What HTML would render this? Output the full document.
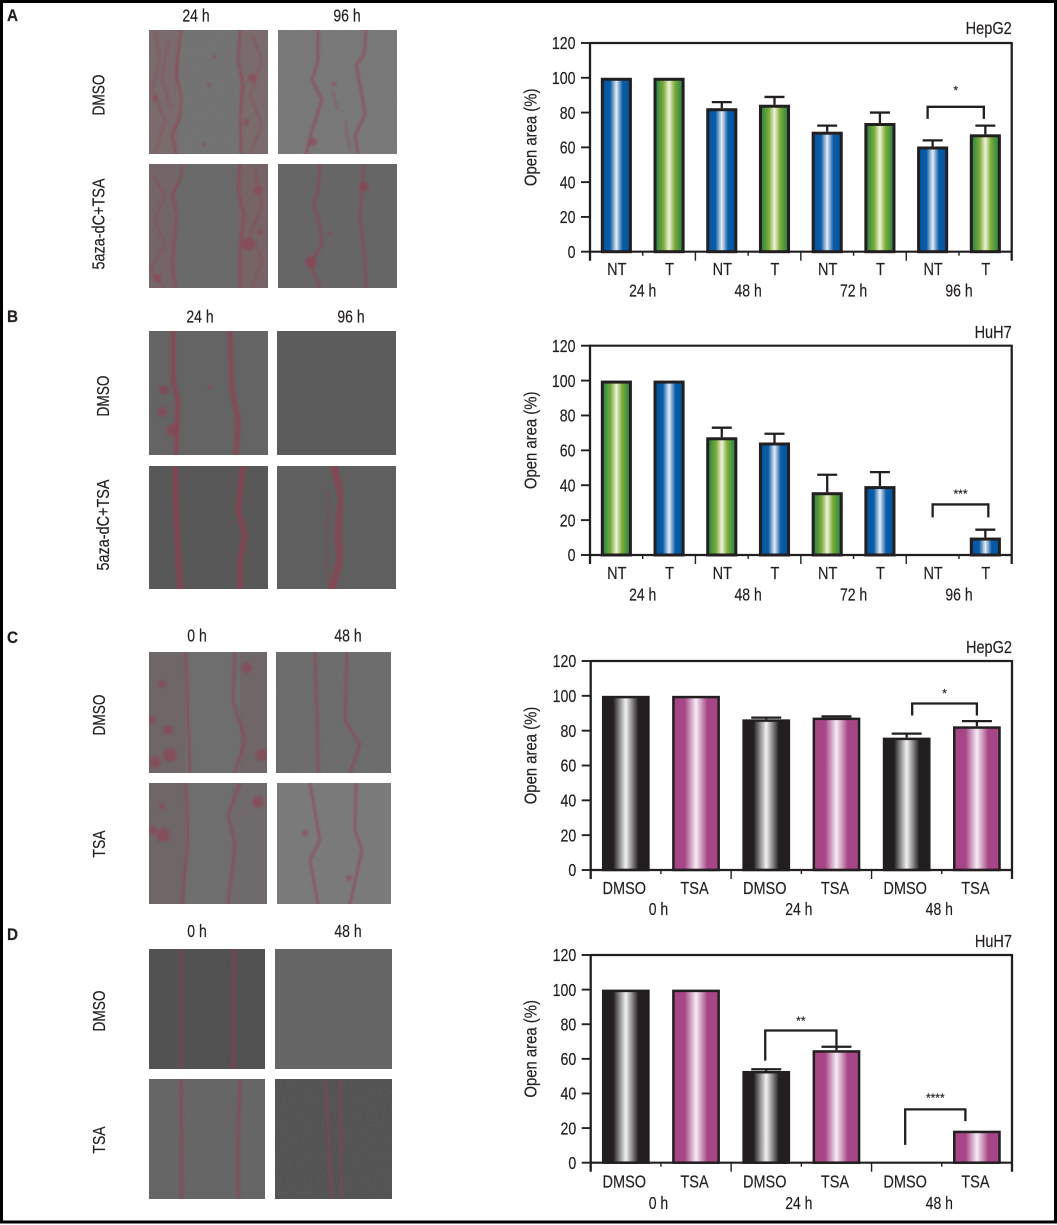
<!DOCTYPE html>
<html lang="en">
<head>
<meta charset="utf-8">
<title>Open area wound healing figure</title>
<style>
html,body{margin:0;padding:0;background:#fff;}
#figure{display:block;position:absolute;left:0;top:0;}
text{font-family:"Liberation Sans",sans-serif;fill:#231f20;stroke:#231f20;stroke-width:.18;}
.w{fill:none;stroke:rgb(150,58,78);stroke-width:2.4;stroke-opacity:.62;stroke-linejoin:round;stroke-linecap:round;}
.t{fill:none;stroke:rgb(150,58,78);stroke-width:1.6;stroke-opacity:.45;}
.b{fill:rgb(150,58,78);fill-opacity:.5;}
</style>
</head>
<body>
<svg id="figure" xmlns="http://www.w3.org/2000/svg" width="1057" height="1225" viewBox="0 0 1057 1225">
<defs>
<filter id="soft" x="-5%" y="-5%" width="110%" height="110%"><feGaussianBlur stdDeviation="1.1"/></filter>
<filter id="grain" x="0" y="0" width="100%" height="100%"><feTurbulence type="fractalNoise" baseFrequency="0.55" numOctaves="2" seed="4"/><feColorMatrix type="matrix" values="0 0 0 0 0.25  0 0 0 0 0.25  0 0 0 0 0.25  0 0 0 1.1 -0.4"/></filter>
<linearGradient id="grad-blue" x1="0" x2="1" y1="0" y2="0"><stop offset="0" stop-color="#00549f"/><stop offset=".28" stop-color="#0a5ca6"/><stop offset=".5" stop-color="#e6ecf6"/><stop offset=".72" stop-color="#0a5ca6"/><stop offset="1" stop-color="#00549f"/></linearGradient>
<linearGradient id="grad-green" x1="0" x2="1" y1="0" y2="0"><stop offset="0" stop-color="#1f8048"/><stop offset=".3" stop-color="#7dab38"/><stop offset=".5" stop-color="#eef3da"/><stop offset=".7" stop-color="#7dab38"/><stop offset="1" stop-color="#1f8048"/></linearGradient>
<linearGradient id="grad-black" x1="0" x2="1" y1="0" y2="0"><stop offset="0" stop-color="#231f20"/><stop offset=".22" stop-color="#231f20"/><stop offset=".5" stop-color="#f2f2f2"/><stop offset=".78" stop-color="#231f20"/><stop offset="1" stop-color="#231f20"/></linearGradient>
<linearGradient id="grad-magenta" x1="0" x2="1" y1="0" y2="0"><stop offset="0" stop-color="#a64686"/><stop offset=".25" stop-color="#a64686"/><stop offset=".5" stop-color="#f5ecf3"/><stop offset=".75" stop-color="#a64686"/><stop offset="1" stop-color="#a64686"/></linearGradient>
</defs>

<rect x="0" y="0" width="1057" height="1225" fill="#fff"/>

<!-- Panel A micrographs -->
<svg x="149" y="30" width="119" height="124" viewBox="149 30 119 124">
<rect x="149" y="30" width="119" height="124" fill="#727272"/><rect x="149" y="30" width="30" height="124" fill="#7a6a6c"/><rect x="240" y="30" width="28" height="124" fill="#7a6a6c"/>
<rect x="149" y="30" width="119" height="124" filter="url(#grain)" opacity=".3"/>
<g filter="url(#soft)"><path class="w" d="M181 30L178 55L176 75L181 95L180 117L172 135L176 154"/><path class="w" d="M240 30L238 60L243 85L240 115L241 154"/><path class="t" d="M155 30L160 60L152 90L165 120L155 154M168 40L162 80L172 110M252 35L262 60L250 95L262 125L250 154"/><circle class="b" cx="252" cy="78" r="4"/><circle class="b" cx="209" cy="85" r="2"/><circle class="b" cx="214" cy="57" r="2"/><circle class="b" cx="155" cy="98" r="3"/><circle class="b" cx="246" cy="122" r="3"/><circle class="b" cx="204" cy="145" r="2"/></g>
</svg>
<svg x="278" y="30" width="119" height="124" viewBox="278 30 119 124">
<rect x="278" y="30" width="119" height="124" fill="#787878"/><rect x="278" y="30" width="119" height="124" filter="url(#grain)" opacity=".25"/>
<g filter="url(#soft)"><path class="w" d="M318 30L318 60L312 80L322 100L312 130L306 154"/><path class="w" d="M366 30L364 55L356 65L362 95L365 115L355 135L358 154"/><path class="t" d="M332 90L338 110M345 120L350 150"/><circle class="b" cx="313" cy="142" r="4"/><circle class="b" cx="334" cy="84" r="2"/></g>
</svg>
<svg x="149" y="164" width="119" height="124" viewBox="149 164 119 124">
<rect x="149" y="164" width="119" height="124" fill="#6a6a6a"/><rect x="149" y="164" width="28" height="124" fill="#746668"/><rect x="238" y="164" width="30" height="124" fill="#766466"/>
<g filter="url(#soft)"><path class="w" d="M182 164L180 180L172 195L177 215L174 240L172 265L176 288"/><path class="w" d="M240 164L238 190L244 215L240 250L240 288"/><path class="t" d="M152 175L165 195L155 220L165 245L150 270L165 288M255 170L262 205L250 235L262 260L252 288"/><circle class="b" cx="258" cy="190" r="4"/><circle class="b" cx="248" cy="244" r="6"/><circle class="b" cx="260" cy="232" r="3"/><circle class="b" cx="157" cy="278" r="4"/></g>
</svg>
<svg x="278" y="164" width="119" height="124" viewBox="278 164 119 124">
<rect x="278" y="164" width="119" height="124" fill="#666"/>
<g filter="url(#soft)"><path class="w" d="M320 164L318 190L314 205L320 225L322 245L310 262L320 288"/><path class="w" d="M364 164L362 190L360 220L364 250L366 288"/><circle class="b" cx="364" cy="187" r="5"/><circle class="b" cx="311" cy="262" r="6"/><circle class="b" cx="330" cy="234" r="2"/></g>
</svg>

<!-- Panel B micrographs -->
<svg x="149" y="331" width="119" height="124" viewBox="149 331 119 124">
<rect x="149" y="331" width="119" height="124" fill="#646464"/>
<g filter="url(#soft)"><path class="w" style="stroke-width:5" d="M173 331L173 380L178 400L176 455"/><path class="w" style="stroke-width:5" d="M230 331L232 390L238 420L236 455"/><circle class="b" cx="164" cy="390" r="5"/><circle class="b" cx="162" cy="412" r="5"/><circle class="b" cx="172" cy="430" r="6"/><circle class="b" cx="210" cy="387" r="2"/></g>
</svg>
<svg x="277" y="331" width="119" height="124" viewBox="277 331 119 124">
<rect x="277" y="331" width="119" height="124" fill="#5c5c5c"/>
<g filter="url(#soft)"><path class="w" style="stroke-width:5" d="M331 331L331 350"/></g>
</svg>
<svg x="149" y="466" width="119" height="123" viewBox="149 466 119 123">
<rect x="149" y="466" width="119" height="123" fill="#585858"/>
<g filter="url(#soft)"><path class="w" style="stroke-width:6" d="M175 466L176 510L180 589"/><path class="w" style="stroke-width:6" d="M243 466L238 510L245 535L240 560L240 589"/></g>
</svg>
<svg x="277" y="466" width="119" height="123" viewBox="277 466 119 123">
<rect x="277" y="466" width="119" height="123" fill="#5f5f5f"/>
<g filter="url(#soft)"><path class="w" style="stroke-width:7" d="M334 466L342 500L338 530L340 560L332 589"/><path class="t" d="M328 490L327 560L330 589"/></g>
</svg>

<!-- Panel C micrographs -->
<svg x="149" y="652" width="118" height="121" viewBox="149 652 118 121">
<rect x="149" y="652" width="118" height="121" fill="#6e6e6e"/><rect x="149" y="652" width="36" height="121" fill="#6f6668"/><rect x="240" y="652" width="27" height="121" fill="#6f6668"/>
<g filter="url(#soft)"><path class="w" d="M186 652L188 720L190 773"/><path class="w" d="M235 652L233 700L245 740L235 773"/><circle class="b" cx="247" cy="668" r="5"/><circle class="b" cx="162" cy="684" r="4"/><circle class="b" cx="152" cy="720" r="4"/><circle class="b" cx="168" cy="730" r="5"/><circle class="b" cx="170" cy="755" r="7"/><circle class="b" cx="155" cy="762" r="6"/><circle class="b" cx="262" cy="755" r="6"/></g>
</svg>
<svg x="276" y="652" width="115" height="121" viewBox="276 652 115 121">
<rect x="276" y="652" width="115" height="121" fill="#6c6c6c"/><rect x="276" y="652" width="115" height="121" filter="url(#grain)" opacity=".25"/>
<g filter="url(#soft)"><path class="w" d="M315 652L317 720L318 773"/><path class="w" d="M347 652L345 720L360 745L350 773"/></g>
</svg>
<svg x="149" y="783" width="118" height="121" viewBox="149 783 118 121">
<rect x="149" y="783" width="118" height="121" fill="#6e6e6e"/><rect x="149" y="783" width="36" height="121" fill="#6f6668"/><rect x="232" y="783" width="35" height="121" fill="#6f6a6c"/>
<g filter="url(#soft)"><path class="w" d="M186 783L188 840L182 904"/><path class="w" d="M240 783L228 815L235 845L228 904"/><circle class="b" cx="258" cy="802" r="6"/><circle class="b" cx="163" cy="835" r="7"/><circle class="b" cx="153" cy="830" r="4"/><circle class="b" cx="162" cy="806" r="3"/></g>
</svg>
<svg x="277" y="783" width="114" height="121" viewBox="277 783 114 121">
<rect x="277" y="783" width="114" height="121" fill="#7a7a7a"/><rect x="277" y="783" width="114" height="121" filter="url(#grain)" opacity=".22"/>
<g filter="url(#soft)"><path class="w" d="M310 783L320 840L310 860L318 904"/><path class="w" d="M356 783L355 830L362 850L350 904"/><circle class="b" cx="305" cy="833" r="3"/><circle class="b" cx="349" cy="878" r="3"/></g>
</svg>

<!-- Panel D micrographs -->
<svg x="149" y="949" width="116" height="120" viewBox="149 949 116 120">
<rect x="149" y="949" width="116" height="120" fill="#525252"/>
<g filter="url(#soft)"><path class="w" style="stroke-width:4;stroke-opacity:.4" d="M181 949V1069"/><path class="w" style="stroke-width:5;stroke-opacity:.4" d="M234 949L233 1069"/></g>
</svg>
<rect x="275" y="949" width="117" height="120" fill="#656565"/>
<svg x="149" y="1079" width="116" height="120" viewBox="149 1079 116 120">
<rect x="149" y="1079" width="116" height="120" fill="#666"/>
<g filter="url(#soft)"><path class="w" style="stroke-width:4;stroke-opacity:.45" d="M181 1079L182 1199"/><path class="w" style="stroke-width:4;stroke-opacity:.45" d="M240 1079L238 1140L238 1199"/></g>
</svg>
<svg x="275" y="1079" width="117" height="120" viewBox="275 1079 117 120">
<rect x="275" y="1079" width="117" height="120" fill="#535353"/><rect x="275" y="1079" width="117" height="120" filter="url(#grain)" opacity=".25"/>
<g filter="url(#soft)"><path class="w" style="stroke-width:4;stroke-opacity:.35" d="M325 1079L332 1199"/><path class="w" style="stroke-width:4;stroke-opacity:.35" d="M340 1079L342 1199"/></g>
</svg>

<!-- Panel letters -->
<text transform="translate(7,21) scale(.9,1)" font-size="17" font-weight="bold">A</text>
<text transform="translate(7,322) scale(.9,1)" font-size="17" font-weight="bold">B</text>
<text transform="translate(7,643) scale(.9,1)" font-size="17" font-weight="bold">C</text>
<text transform="translate(7,940) scale(.9,1)" font-size="17" font-weight="bold">D</text>

<!-- Micrograph column and row labels -->
<text text-anchor="middle" font-size="17.5" transform="translate(196,21.5) scale(.8,1)">24 h</text>
<text text-anchor="middle" font-size="17.5" transform="translate(347,21.5) scale(.8,1)">96 h</text>
<text text-anchor="middle" font-size="17.5" transform="translate(200,322.5) scale(.8,1)">24 h</text>
<text text-anchor="middle" font-size="17.5" transform="translate(351,322.5) scale(.8,1)">96 h</text>
<text text-anchor="middle" font-size="17.5" transform="translate(197,641.5) scale(.8,1)">0 h</text>
<text text-anchor="middle" font-size="17.5" transform="translate(348,641.5) scale(.8,1)">48 h</text>
<text text-anchor="middle" font-size="17.5" transform="translate(197,937) scale(.8,1)">0 h</text>
<text text-anchor="middle" font-size="17.5" transform="translate(348,937) scale(.8,1)">48 h</text>

<text text-anchor="middle" font-size="17.5" transform="translate(104.5,95) rotate(-90) scale(.78,1)">DMSO</text>
<text text-anchor="middle" font-size="17.5" transform="translate(104.5,224) rotate(-90) scale(.825,1)">5aza-dC+TSA</text>
<text text-anchor="middle" font-size="17.5" transform="translate(109,396) rotate(-90) scale(.78,1)">DMSO</text>
<text text-anchor="middle" font-size="17.5" transform="translate(109,525) rotate(-90) scale(.825,1)">5aza-dC+TSA</text>
<text text-anchor="middle" font-size="17.5" transform="translate(105,715) rotate(-90) scale(.78,1)">DMSO</text>
<text text-anchor="middle" font-size="17.5" transform="translate(105,844) rotate(-90) scale(.8,1)">TSA</text>
<text text-anchor="middle" font-size="17.5" transform="translate(105,1011) rotate(-90) scale(.78,1)">DMSO</text>
<text text-anchor="middle" font-size="17.5" transform="translate(105,1140) rotate(-90) scale(.8,1)">TSA</text>

<g id="charts"></g>

<rect x="1.5" y="1.5" width="1054" height="1220.5" fill="none" stroke="#000" stroke-width="3"/>
</svg>

<script>
// Shared axis tick labels
var yTicks = [0, 20, 40, 60, 80, 100, 120];

// Panel A: HepG2
var aCategories = ["NT", "T", "NT", "T", "NT", "T", "NT", "T"];
var aGroups = ["24 h", "48 h", "72 h", "96 h"];
var aValues = [100, 100, 82.5, 84.5, 69, 74, 60.5, 67.5];
var aErrorTops = [100, 100, 86, 89, 72.5, 80, 64, 72.5];
var aBracketTop = [83.3];
var aBracketLeftEnd = [76.4];
var aBracketRightEnd = [76.4];

// Panel B: HuH7
var bCategories = ["NT", "T", "NT", "T", "NT", "T", "NT", "T"];
var bGroups = ["24 h", "48 h", "72 h", "96 h"];
var bValues = [100, 100, 67.5, 64.5, 36, 39.5, 0, 10];
var bErrorTops = [100, 100, 73, 69.5, 46, 47.5, 0, 14.5];
var bBracketTop = [29];
var bBracketLeftEnd = [21.6];
var bBracketRightEnd = [21.6];

// Panel C: HepG2
var cCategories = ["DMSO", "TSA", "DMSO", "TSA", "DMSO", "TSA"];
var cGroups = ["0 h", "24 h", "48 h"];
var cValues = [100, 100, 86.5, 87.5, 76, 82.5];
var cErrorTops = [100, 100, 87.5, 88.2, 78.3, 85.5];
var cBracketTop = [95.6];
var cBracketLeftEnd = [88.7];
var cBracketRightEnd = [88.7];

// Panel D: HuH7
var dCategories = ["DMSO", "TSA", "DMSO", "TSA", "DMSO", "TSA"];
var dGroups = ["0 h", "24 h", "48 h"];
var dValues = [100, 100, 53, 65, 0, 18.5];
var dErrorTops = [100, 100, 54, 67, 0, 18.5];
var dBracketTop = [76.4, 30.8];
var dBracketLeftEnd = [59, 10.3];
var dBracketRightEnd = [67.6, 24];

var NS = "http://www.w3.org/2000/svg";
var root = document.getElementById("charts");

function make(parent, tag, attrs) {
  var el = document.createElementNS(NS, tag);
  for (var k in attrs) el.setAttribute(k, attrs[k]);
  parent.appendChild(el);
  return el;
}
function label(parent, x, y, str, size, sx, anchor, rot) {
  var el = make(parent, "text", {
    "font-size": size,
    "text-anchor": anchor,
    transform: "translate(" + x + "," + y + ")" + (rot ? " rotate(" + rot + ")" : "") + " scale(" + sx + ",1)"
  });
  el.textContent = str;
  return el;
}
function seg(parent, x1, y1, x2, y2, w) {
  return make(parent, "line", {x1: x1, y1: y1, x2: x2, y2: y2, stroke: "#231f20", "stroke-width": w});
}

function drawChart(cfg) {
  var g = make(root, "g", {});
  
  

  var n = cfg.values.length;
  var band = (cfg.right - cfg.left) / n;
  function xScale(i) { return cfg.left + (i + 0.5) * band; }
  function yScale(v) { return cfg.base - v * (cfg.base - cfg.top) / 120; }
  var barW = band * cfg.barFrac;

  // bars
  cfg.values.forEach(function (v, i) {
    if (v <= 0) return;
    var fill = "url(#" + cfg.barFill(i) + ")";
    var bar = make(g, "rect", {
      x: xScale(i) - barW / 2 + cfg.barStroke / 2,
      y: yScale(v) + cfg.barStroke / 2,
      width: barW - cfg.barStroke,
      height: Math.max(0, yScale(0) - yScale(v) - cfg.barStroke / 2),
      fill: fill,
      stroke: "#231f20",
      "stroke-width": cfg.barStroke
    });
    
    
  });

  // error bars
  cfg.errorTops.forEach(function (e, i) {
    if (e <= cfg.values[i]) return;
    var eg = make(g, "g", {});
    
    
    seg(eg, xScale(i), yScale(cfg.values[i]), xScale(i), yScale(e), 2.3);
    seg(eg, xScale(i) - cfg.capW / 2, yScale(e), xScale(i) + cfg.capW / 2, yScale(e), 2.3);
  });

  // axes
  var axes = make(g, "g", {});
  
  
  seg(axes, cfg.left, cfg.top - 1, cfg.left, cfg.base + 9, 2.3);
  seg(axes, cfg.right, cfg.top - 1, cfg.right, cfg.base + 9, 2.3);
  seg(axes, cfg.left, cfg.top, cfg.right, cfg.top, 2.2);
  seg(axes, cfg.left, cfg.base, cfg.right, cfg.base, 2.2);

  // y ticks
  yTicks.forEach(function (t) {
    seg(axes, cfg.left - 9, yScale(t), cfg.left, yScale(t), 1.9);
    var tl = label(g, cfg.left - 14.5, yScale(t) + 6.2, String(t), 17.5, 0.81, "end");
    
    
  });

  // x ticks and category labels
  var perGroup = n / cfg.groups.length;
  for (var k = 1; k < n; k++) {
    var major = k % 2 === 0;
    seg(axes, cfg.left + k * band, cfg.base, cfg.left + k * band, cfg.base + (major ? 9 : 4), 1.4);
  }
  cfg.categories.forEach(function (c, i) {
    var cl = label(g, xScale(i) + cfg.catShift, cfg.catBase, c, 17.5, 0.83, "middle");
    
    
  });
  cfg.groups.forEach(function (c, i) {
    var gx = cfg.left + (i + 0.5) * perGroup * band + cfg.groupShift;
    var gl = label(g, gx, cfg.groupBase, c, 17.5, 0.8, "middle");
    
    
  });

  // y title
  var yt = label(g, 536.5, (cfg.top + cfg.base) / 2 - 10, "Open area (%)", 17.5, 0.85, "middle", -90);
  
  

  // cell-line title
  var title = label(g, cfg.right, cfg.titleBase, cfg.title, 17.5, 0.83, "end");
  
  

  // significance brackets
  cfg.brackets.forEach(function (b, idx) {
    var sg = make(g, "g", {});
    
    
    var x1 = xScale(b.from) + b.dxL;
    var x2 = xScale(b.to) + b.dxR;
    var yTop = yScale(cfg.bracketTop[idx]);
    make(sg, "path", {
      d: "M" + x1 + " " + yScale(cfg.bracketLeftEnd[idx]) + "V" + yTop + "H" + x2 + "V" + yScale(cfg.bracketRightEnd[idx]),
      fill: "none", stroke: "#231f20", "stroke-width": 2.3
    });
    label(sg, (x1 + x2) / 2, yTop - b.gap + 6.5, b.stars, 12, 1, "middle");
  });
}

function altFill(first, second) {
  return function (i) { return i % 2 === 0 ? first : second; };
}

drawChart({
  name: "chart-a-hepg2", title: "HepG2", left: 590, right: 1011.7, top: 43, base: 251.7,
  categories: aCategories, groups: aGroups, values: aValues, errorTops: aErrorTops,
  bracketTop: aBracketTop, bracketLeftEnd: aBracketLeftEnd, bracketRightEnd: aBracketRightEnd,
  brackets: [{from: 6, to: 7, dxL: -5, dxR: -1.5, gap: 19, stars: "*"}],
  barFrac: 0.59, barStroke: 3, capW: 20, catShift: 0.5, groupShift: 0, catBase: 275, groupBase: 296.5,
  titleBase: 34, barFill: altFill("grad-blue", "grad-green")
});
drawChart({
  name: "chart-b-huh7", title: "HuH7", left: 590, right: 1011.7, top: 345.7, base: 555,
  categories: bCategories, groups: bGroups, values: bValues, errorTops: bErrorTops,
  bracketTop: bBracketTop, bracketLeftEnd: bBracketLeftEnd, bracketRightEnd: bBracketRightEnd,
  brackets: [{from: 6, to: 7, dxL: 0, dxR: 3, gap: 13, stars: "***"}],
  barFrac: 0.59, barStroke: 3, capW: 20, catShift: 0.5, groupShift: 0, catBase: 579, groupBase: 600.5,
  titleBase: 338, barFill: altFill("grad-green", "grad-blue")
});
drawChart({
  name: "chart-c-hepg2", title: "HepG2", left: 590.7, right: 1012, top: 661, base: 870,
  categories: cCategories, groups: cGroups, values: cValues, errorTops: cErrorTops,
  bracketTop: cBracketTop, bracketLeftEnd: cBracketLeftEnd, bracketRightEnd: cBracketRightEnd,
  brackets: [{from: 4, to: 5, dxL: 5.5, dxR: 0, gap: 12.7, stars: "*"}],
  barFrac: 0.68, barStroke: 2.5, capW: 30, catShift: -1.5, groupShift: -2.5, catBase: 894, groupBase: 915,
  titleBase: 653, barFill: altFill("grad-black", "grad-magenta")
});
drawChart({
  name: "chart-d-huh7", title: "HuH7", left: 590.7, right: 1012, top: 955, base: 1162.7,
  categories: dCategories, groups: dGroups, values: dValues, errorTops: dErrorTops,
  bracketTop: dBracketTop, bracketLeftEnd: dBracketLeftEnd, bracketRightEnd: dBracketRightEnd,
  brackets: [
    {from: 2, to: 3, dxL: -1, dxR: 0, gap: 12, stars: "**"},
    {from: 4, to: 5, dxL: -1.5, dxR: -11.5, gap: 14, stars: "****"}
  ],
  barFrac: 0.68, barStroke: 2.5, capW: 30, catShift: -1.5, groupShift: -2.5, catBase: 1187.5, groupBase: 1209,
  titleBase: 947, barFill: altFill("grad-black", "grad-magenta")
});
</script>
</body>
</html>
